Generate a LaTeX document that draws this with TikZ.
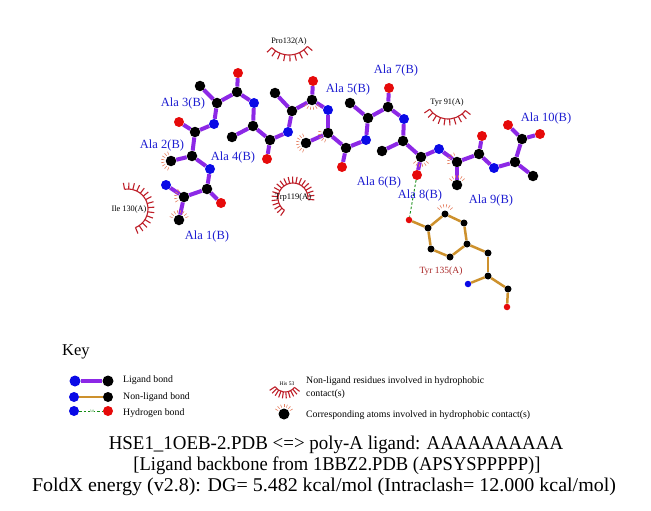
\documentclass[tikz,border=0pt]{standalone}
\usepackage{graphicx}
\usepackage{fontspec}
\setmainfont{Liberation Serif}
\definecolor{lig}{RGB}{140,40,230}
\definecolor{nonlig}{RGB}{205,145,45}
\definecolor{atN}{RGB}{10,10,230}
\definecolor{atO}{RGB}{230,10,10}
\definecolor{hydres}{RGB}{190,30,40}
\definecolor{hydat}{RGB}{230,130,100}
\definecolor{lab}{RGB}{30,30,210}
\definecolor{tyrlab}{RGB}{170,40,40}
\definecolor{hbcol}{RGB}{20,140,20}
\tikzset{
  atc/.style={circle,fill=black,inner sep=0pt,minimum size=10.5pt},
  atn/.style={circle,fill=atN,inner sep=0pt,minimum size=10pt},
  ato/.style={circle,fill=atO,inner sep=0pt,minimum size=10pt},
  stc/.style={circle,fill=black,inner sep=0pt,minimum size=7pt},
  stn/.style={circle,fill=atN,inner sep=0pt,minimum size=6.5pt},
  sto/.style={circle,fill=atO,inner sep=0pt,minimum size=6.5pt},
  ligbond/.style={draw=lig,line width=4pt},
  nlbond/.style={draw=nonlig,line width=2.5pt},
  hbond/.style={draw=hbcol,line width=0.9pt,dash pattern=on 2.5pt off 2pt},
  hatst/.style={draw=hydat,line width=0.6pt},
  hresst/.style={draw=hydres,line width=1.1pt},
  alalab/.style={text=lab,font=\fontsize{12.5}{14}\selectfont,inner sep=0pt},
  reslab/.style={text=black,font=\fontsize{8.3}{9}\selectfont,inner sep=0pt},
  keytext/.style={font=\fontsize{9.8}{11}\selectfont,inner sep=0pt,anchor=west},
  titletext/.style={font=\fontsize{19.5}{22}\selectfont,inner sep=0pt},
}
\newcommand\hatom[4]{\foreach \a in {#2,#3,...,#4} \draw[hatst] (#1.center) ++(\a:6.8) -- ++(\a:3.2);}
\newcommand\hres[6]{%
  \draw[hresst] (#1,#2) ++(#4:#3) arc[start angle=#4, end angle=#6, radius=#3];
  \foreach \a in {#4,#5,...,#6} \draw[hresst] (#1,#2) ++(\a:#3) -- ++(\a:6.5);}
\begin{document}
\begin{tikzpicture}[x=1pt,y=-1pt]
\useasboundingbox[fill=white] (0,0) rectangle (651,511);

% hydrophobic residues
\hres{289}{31}{24}{40}{52}{136}
\node[reslab] (pro) at (289,42) {Pro132(A)};
\hres{448}{97}{22}{38}{50}{146}
\node[reslab] (tyr91) at (447,103) {Tyr 91(A)};
\hres{128}{209}{20}{-100}{-88}{68}
\node[reslab] (ile) at (129,210) {Ile 130(A)};
\hres{293}{198}{15}{125}{137}{365}
\node[reslab,font=\fontsize{8.5}{10}\selectfont] (trp) at (293,197) {Trp119(A)};

% ligand atoms
\node[atn] (a1N) at (166,185) {};
\node[atc] (a1CA) at (184,197) {};
\node[atc] (a1CB) at (179,220) {};
\node[atc] (a1C) at (207,189) {};
\node[ato] (a1O) at (221,203) {};
\node[atn] (a2N) at (210,169) {};
\node[atc] (a2CA) at (192,156) {};
\node[atc] (a2CB) at (171,161) {};
\node[atc] (a2C) at (195,132) {};
\node[ato] (a2O) at (179,122) {};
\node[atn] (a3N) at (214,124) {};
\node[atc] (a3CA) at (217,103) {};
\node[atc] (a3CB) at (200,86) {};
\node[atc] (a3C) at (237,92) {};
\node[ato] (a3O) at (238,73) {};
\node[atn] (a4N) at (254,103) {};
\node[atc] (a4CA) at (253,126) {};
\node[atc] (a4CB) at (232,137) {};
\node[atc] (a4C) at (270,140) {};
\node[ato] (a4O) at (267,159) {};
\node[atn] (a5N) at (288,132) {};
\node[atc] (a5CA) at (292,111) {};
\node[atc] (a5CB) at (275,93) {};
\node[atc] (a5C) at (312,100) {};
\node[ato] (a5O) at (313,81) {};
\node[atn] (a6N) at (328,110) {};
\node[atc] (a6CA) at (328,133) {};
\node[atc] (a6CB) at (306,143) {};
\node[atc] (a6C) at (346,148) {};
\node[ato] (a6O) at (342,167) {};
\node[atn] (a7N) at (366,140) {};
\node[atc] (a7CA) at (368,118) {};
\node[atc] (a7CB) at (350,103) {};
\node[atc] (a7C) at (388,107) {};
\node[ato] (a7O) at (389,88) {};
\node[atn] (a8N) at (404,119) {};
\node[atc] (a8CA) at (403,141) {};
\node[atc] (a8CB) at (382,151) {};
\node[atc] (a8C) at (421,157) {};
\node[ato] (a8O) at (417,175) {};
\node[atn] (a9N) at (439,149) {};
\node[atc] (a9CA) at (457,162) {};
\node[atc] (a9CB) at (457,185) {};
\node[atc] (a9C) at (479,154) {};
\node[ato] (a9O) at (482,136) {};
\node[atn] (a10N) at (494,168) {};
\node[atc] (a10CA) at (515,162) {};
\node[atc] (a10CB) at (533,176) {};
\node[atc] (a10C) at (522,139) {};
\node[ato] (a10O) at (508,125) {};
\node[ato] (a10OX) at (540,134) {};

% ligand bonds
\foreach \i in {1,...,10}{
  \draw[ligbond] (a\i N) -- (a\i CA);
  \draw[ligbond] (a\i CA) -- (a\i CB);
  \draw[ligbond] (a\i CA) -- (a\i C);
  \draw[ligbond] (a\i C) -- (a\i O);
}
\draw[ligbond] (a10C) -- (a10OX);
\draw[ligbond] (a1C) -- (a2N);
\draw[ligbond] (a2C) -- (a3N);
\draw[ligbond] (a3C) -- (a4N);
\draw[ligbond] (a4C) -- (a5N);
\draw[ligbond] (a5C) -- (a6N);
\draw[ligbond] (a6C) -- (a7N);
\draw[ligbond] (a7C) -- (a8N);
\draw[ligbond] (a8C) -- (a9N);
\draw[ligbond] (a9C) -- (a10N);

% Tyr 135
\node[sto] (tOH) at (409,220) {};
\node[stc] (tCZ) at (428,228) {};
\node[stc] (tCE1) at (445,214) {};
\node[stc] (tCD1) at (464,223) {};
\node[stc] (tCG) at (467,244) {};
\node[stc] (tCD2) at (450,257) {};
\node[stc] (tCE2) at (431,249) {};
\node[stc] (tCB) at (488,253) {};
\node[stc] (tCA) at (488,276) {};
\node[stn] (tN) at (468,284) {};
\node[stc] (tC) at (508,289) {};
\node[sto] (tO) at (507,307) {};
\draw[nlbond] (tOH) -- (tCZ);
\draw[nlbond] (tCZ) -- (tCE1);
\draw[nlbond] (tCE1) -- (tCD1);
\draw[nlbond] (tCD1) -- (tCG);
\draw[nlbond] (tCG) -- (tCD2);
\draw[nlbond] (tCD2) -- (tCE2);
\draw[nlbond] (tCE2) -- (tCZ);
\draw[nlbond] (tCG) -- (tCB);
\draw[nlbond] (tCB) -- (tCA);
\draw[nlbond] (tCA) -- (tN);
\draw[nlbond] (tCA) -- (tC);
\draw[nlbond] (tC) -- (tO);
\node[text=tyrlab,font=\fontsize{9.5}{11}\selectfont,inner sep=0pt] (tyrlab) at (441,271) {Tyr 135(A)};

% hydrogen bond
\draw[hbond] (a8O) -- (tOH);

% hydrophobic contact atoms
\hatom{a1CA}{150}{170}{230}
\hatom{a1CB}{200}{220}{340}
\hatom{a2CB}{110}{130}{250}
\hatom{a5C}{40}{60}{140}
\hatom{a6CB}{110}{130}{250}
\hatom{a6CA}{110}{130}{190}
\hatom{a8C}{40}{60}{140}
\hatom{a9CA}{170}{190}{250}
\hatom{a9CB}{220}{240}{320}
\hatom{tCE1}{220}{240}{320}

% residue labels
\node[alalab] (l1) at (207,236) {Ala 1(B)};
\node[alalab] (l2) at (162,145) {Ala 2(B)};
\node[alalab] (l3) at (183,103) {Ala 3(B)};
\node[alalab] (l4) at (233,157) {Ala 4(B)};
\node[alalab] (l5) at (348,89) {Ala 5(B)};
\node[alalab] (l6) at (379,182) {Ala 6(B)};
\node[alalab] (l7) at (396,70) {Ala 7(B)};
\node[alalab] (l8) at (420,195) {Ala 8(B)};
\node[alalab] (l9) at (491,200) {Ala 9(B)};
\node[alalab] (l10) at (546,118) {Ala 10(B)};

% key
\node[font=\fontsize{16.5}{18}\selectfont,inner sep=0pt,anchor=west] (key) at (62,352) {Key};
\node[circle,fill=atN,inner sep=0pt,minimum size=11pt] (k1a) at (75,381) {};
\node[circle,fill=black,inner sep=0pt,minimum size=11pt] (k1b) at (108,381) {};
\draw[ligbond] (k1a) -- (k1b);
\node[keytext] (k1t) at (123,380) {Ligand bond};
\node[circle,fill=atN,inner sep=0pt,minimum size=10pt] (k2a) at (74,397) {};
\node[circle,fill=black,inner sep=0pt,minimum size=10pt] (k2b) at (108,397) {};
\draw[nlbond] (k2a) -- (k2b);
\node[keytext] (k2t) at (123,397) {Non-ligand bond};
\node[circle,fill=atN,inner sep=0pt,minimum size=10pt] (k3a) at (74,411) {};
\node[circle,fill=atO,inner sep=0pt,minimum size=10pt] (k3b) at (108,411) {};
\draw[hbond] (k3a) -- (k3b);
\node[fill=white,text=hbcol,font=\fontsize{3.5}{4}\selectfont,inner sep=0.3pt] (k3d) at (92,411) {3.0};
\node[keytext] (k3t) at (123,413) {Hydrogen bond};
\hres{285}{380}{12}{38}{50}{146}
\node[font=\fontsize{5.5}{6}\selectfont,inner sep=0pt] (his) at (287,384) {His 53};
\node[keytext] (k4t) at (306,381) {Non-ligand residues involved in hydrophobic};
\node[keytext] (k4u) at (306,394) {contact(s)};
\node[circle,fill=black,inner sep=0pt,minimum size=11pt] (k5a) at (284,414) {};
\hatom{k5a}{210}{230}{330}
\node[keytext] (k5t) at (306,415) {Corresponding atoms involved in hydrophobic contact(s)};

% titles
\node[titletext] (t1) at (336,445) {\scalebox{0.97}[1]{HSE1\_1OEB-2.PDB <=> poly-A ligand: AAAAAAAAAA}};
\node[titletext] (t2) at (337,466) {\scalebox{0.95}[1]{[Ligand backbone from 1BBZ2.PDB (APSYSPPPPP)]}};
\node[titletext] (t3) at (324,487) {\scalebox{1.025}[1]{FoldX energy (v2.8): DG= 5.482 kcal/mol (Intraclash= 12.000 kcal/mol)}};
\end{tikzpicture}
\end{document}
